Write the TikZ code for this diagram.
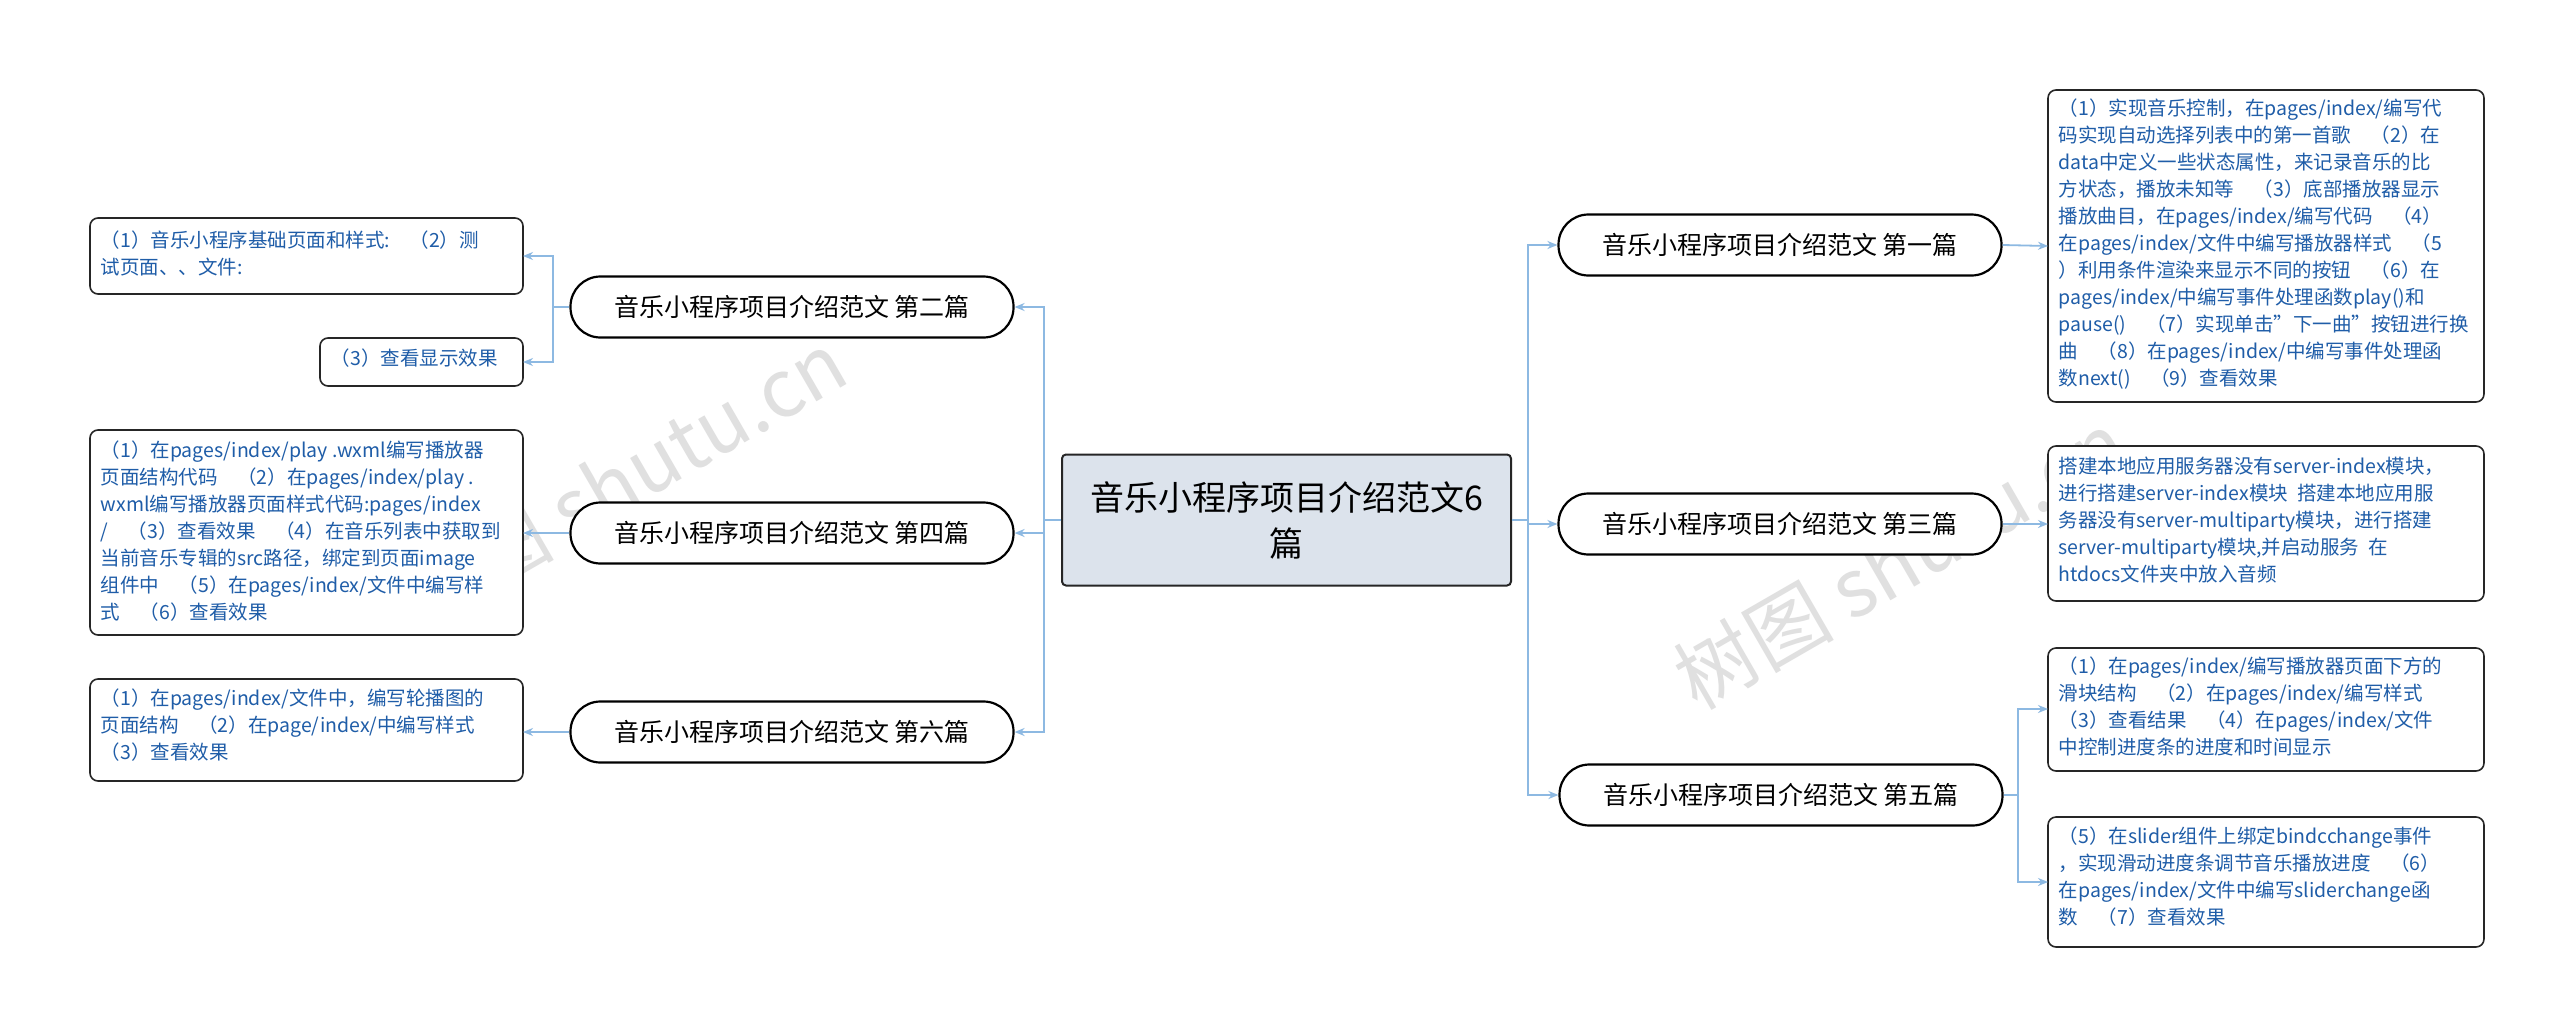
\documentclass[tikz,border=0pt]{standalone}
\usepackage{fontspec}
\setmainfont{Noto Sans CJK SC}
\usetikzlibrary{arrows.meta}
\definecolor{lnk}{HTML}{8DB9E2}
\definecolor{leaftxt}{HTML}{1F5DA8}
\definecolor{cfill}{HTML}{DCE3EC}
\tikzset{
 x=1pt,y=-1pt,
 branch/.style={draw=black,line width=2.2pt,rounded corners=30pt,minimum width=443pt,minimum height=61pt,fill=white,font=\fontsize{25}{30}\selectfont},
 leaf/.style={draw=black!85,line width=1.6pt,rounded corners=8pt,fill=white,align=left,anchor=north west,text=leaftxt,font=\fontsize{19.5}{27}\selectfont,inner sep=0pt},
 conn/.style={draw=lnk,line width=1.8pt,-{Stealth[length=10pt,width=8pt]}},
 wm/.style={text=black!12,font=\fontsize{80}{80}\selectfont,rotate=30}
}
\begin{document}
\begin{tikzpicture}
\useasboundingbox[fill=white] (0,0) rectangle (2560,1028);
\node[wm] at (620,480) {树图 shutu.cn};
\node[wm] at (1900,560) {树图 shutu.cn};
\node[draw=black!85,line width=2pt,fill=cfill,rounded corners=4pt,minimum width=449pt,minimum height=131pt,align=center,font=\fontsize{34}{46}\selectfont] (c) at (1286.5,520) {音乐小程序项目介绍范文6\\篇};
\node[branch] (b1) at (1780,245) {音乐小程序项目介绍范文 第一篇};
\node[branch] (b3) at (1780,524) {音乐小程序项目介绍范文 第三篇};
\node[branch] (b5) at (1781,795) {音乐小程序项目介绍范文 第五篇};
\node[branch] (b2) at (792,307) {音乐小程序项目介绍范文 第二篇};
\node[branch] (b4) at (792,533) {音乐小程序项目介绍范文 第四篇};
\node[branch] (b6) at (792,732) {音乐小程序项目介绍范文 第六篇};
% right leaves
\path[leaf] (2048,90) rectangle (2484,402);
\node[leaf,draw=none,fill=none] (l1) at (2058,98) {（1）实现音乐控制，在pages/index/编写代\\码实现自动选择列表中的第一首歌\quad（2）在\\data中定义一些状态属性，来记录音乐的比\\方状态，播放未知等\quad（3）底部播放器显示\\播放曲目，在pages/index/编写代码\quad（4）\\在pages/index/文件中编写播放器样式\quad（5\\）利用条件渲染来显示不同的按钮\quad（6）在\\pages/index/中编写事件处理函数play()和\\pause()\quad（7）实现单击"下一曲"按钮进行换\\曲\quad（8）在pages/index/中编写事件处理函\\数next()\quad（9）查看效果};
\coordinate (l1w) at (2048,246);
\path[leaf] (2048,446) rectangle (2484,601);
\node[leaf,draw=none,fill=none] at (2058,456) {搭建本地应用服务器没有server-index模块，\\进行搭建server-index模块\ \ 搭建本地应用服\\务器没有server-multiparty模块，进行搭建\\server-multiparty模块,并启动服务\ \ 在\\htdocs文件夹中放入音频};
\coordinate (l3w) at (2048,524);
\path[leaf] (2048,648) rectangle (2484,771);
\node[leaf,draw=none,fill=none] at (2058,656) {（1）在pages/index/编写播放器页面下方的\\滑块结构\quad（2）在pages/index/编写样式\\（3）查看结果\quad（4）在pages/index/文件\\中控制进度条的进度和时间显示};
\coordinate (l5aw) at (2048,709);
\path[leaf] (2048,817) rectangle (2484,947);
\node[leaf,draw=none,fill=none] at (2058,826) {（5）在slider组件上绑定bindcchange事件\\，实现滑动进度条调节音乐播放进度\quad（6）\\在pages/index/文件中编写sliderchange函\\数\quad（7）查看效果};
\coordinate (l5bw) at (2048,882);
% left leaves
\path[leaf] (90,218) rectangle (523,294);
\node[leaf,draw=none,fill=none] at (100,230) {（1）音乐小程序基础页面和样式:\quad（2）测\\试页面、、文件:};
\coordinate (l2ae) at (523,256);
\path[leaf] (320,338) rectangle (523,386);
\node[leaf,draw=none,fill=none] at (330,348) {（3）查看显示效果};
\coordinate (l2be) at (523,362);
\path[leaf] (90,430) rectangle (523,635);
\node[leaf,draw=none,fill=none] at (100,440) {（1）在pages/index/play .wxml编写播放器\\页面结构代码\quad（2）在pages/index/play .\\wxml编写播放器页面样式代码:pages/index\\/\quad（3）查看效果\quad（4）在音乐列表中获取到\\当前音乐专辑的src路径，绑定到页面image\\组件中\quad（5）在pages/index/文件中编写样\\式\quad（6）查看效果};
\coordinate (l4e) at (523,533);
\path[leaf] (90,679) rectangle (523,781);
\node[leaf,draw=none,fill=none] at (100,688) {（1）在pages/index/文件中，编写轮播图的\\页面结构\quad（2）在page/index/中编写样式\\（3）查看效果};
\coordinate (l6e) at (523,732);
% connectors
\draw[conn] (c.east) -- (1528,520) |- (b1.west);
\draw[conn] (c.east) -- (1528,520) |- (b3.west);
\draw[conn] (c.east) -- (1528,520) |- (b5.west);
\draw[conn] (c.west) -- (1044,520) |- (b2.east);
\draw[conn] (c.west) -- (1044,520) |- (b4.east);
\draw[conn] (c.west) -- (1044,520) |- (b6.east);
\draw[conn] (b1.east) -- (l1w);
\draw[conn] (b3.east) -- (l3w);
\draw[conn] (b5.east) -- (2018,795) |- (l5aw);
\draw[conn] (b5.east) -- (2018,795) |- (l5bw);
\draw[conn] (b2.west) -- (553,307) |- (l2ae);
\draw[conn] (b2.west) -- (553,307) |- (l2be);
\draw[conn] (b4.west) -- (l4e);
\draw[conn] (b6.west) -- (l6e);
\end{tikzpicture}
\end{document}
